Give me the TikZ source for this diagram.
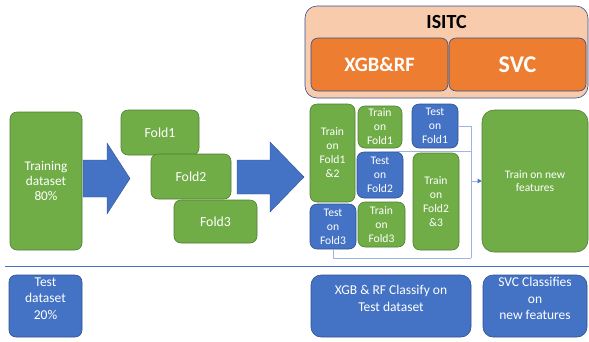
\documentclass[tikz,border=0pt]{standalone}
\usepackage{fontspec}
\setmainfont{Carlito}
\usepackage{tikz}
\usetikzlibrary{positioning}
\usetikzlibrary{arrows.meta}

\definecolor{ggreen}{HTML}{70AD47}
\definecolor{ggreenline}{HTML}{507E32}
\definecolor{bblue}{HTML}{4472C4}
\definecolor{bblueline}{HTML}{2F528F}
\definecolor{oorange}{HTML}{ED7D31}
\definecolor{ppeach}{HTML}{F8CBAD}
\definecolor{llink}{HTML}{9DB5E0}

\tikzset{
	box/.style={rounded corners=7pt, line width=0.6pt, inner sep=0pt, text=white,
		align=center, font=\fontsize{11.6}{14}\selectfont},
	greenbox/.style={box, fill=ggreen, draw=ggreenline},
	bluebox/.style={box, fill=bblue, draw=bblueline},
	orangebox/.style={box, fill=oorange, draw=bblueline},
	bigarrow/.style={fill=bblue, draw=bblueline, line width=0.4pt},
	link/.style={draw=llink, line width=0.8pt},
	bottomtext/.style={text=white, align=center, anchor=north, font=\fontsize{13.5}{16.5}\selectfont}
}

\begin{document}
\begin{tikzpicture}[x=1pt,y=-1pt]
	\useasboundingbox (0,0) rectangle (589,341);

	% model block
	\node[box, fill=ppeach, draw=bblueline, rounded corners=12pt, minimum width=283pt, minimum height=92pt] (isitc) at (446.5,52) {};
	\node[font=\fontsize{20}{22}\bfseries\selectfont, text=black] (isitctitle) at (446.5,22) {ISITC};
	\node[orangebox, font=\fontsize{20.5}{22}\bfseries\selectfont, minimum width=137pt, minimum height=53pt] (xgb) at (379.5,64.5) {XGB\&RF};
	\node[orangebox, font=\fontsize{24}{26}\bfseries\selectfont, minimum width=137pt, minimum height=53pt] (svc) at (517.5,64.5) {SVC};

	% training data and folds
	\node[greenbox, minimum width=72pt, minimum height=138pt, font=\fontsize{13.3}{15}\selectfont] (trainset) at (46,181) {Training\\dataset\\80\%};
	\draw[bigarrow] (83,160) -- (107,160) -- (107,143) -- (130,178.5) -- (107,214) -- (107,197) -- (83,197) -- cycle;
	\node[greenbox, minimum width=78pt, minimum height=45pt, font=\fontsize{13.8}{15}\selectfont] (fold1) at (160,132.5) {Fold1};
	\node[greenbox, minimum width=80pt, minimum height=45pt, font=\fontsize{13.8}{15}\selectfont] (fold2) at (191,176.5) {Fold2};
	\node[greenbox, minimum width=83pt, minimum height=43pt, font=\fontsize{13.8}{15}\selectfont] (fold3) at (215.5,221.5) {Fold3};
	\draw[bigarrow] (237,160) -- (270,160) -- (270,142) -- (304,177) -- (270,212) -- (270,194) -- (237,194) -- cycle;

	% cross validation
	\node[greenbox, minimum width=45pt, minimum height=98pt] (tr12) at (332.5,153) {Train\\on\\Fold1\\\&2};
	\node[greenbox, minimum width=44pt, minimum height=42pt] (tr1) at (380,127) {Train\\on\\Fold1};
	\node[bluebox, minimum width=46pt, minimum height=44pt] (te1) at (435,126) {Test\\on\\Fold1};
	\node[bluebox, minimum width=46pt, minimum height=46pt] (te2) at (380,175) {Test\\on\\Fold2};
	\node[greenbox, minimum width=46pt, minimum height=97pt] (tr23) at (436,201.5) {Train\\on\\Fold2\\\&3};
	\node[bluebox, minimum width=46pt, minimum height=45pt] (te3) at (333,226.5) {Test\\on\\Fold3};
	\node[greenbox, minimum width=47pt, minimum height=45pt] (tr3) at (381.5,224.5) {Train\\on\\Fold3};
	\node[greenbox, rounded corners=12pt, minimum width=106pt, minimum height=142pt, font=\fontsize{11.5}{13.5}\selectfont] (newtr) at (535,181) {Train on new\\features};

	% connectors
	\coordinate (jtop) at (471,126);
	\coordinate (jmid) at (471,151);
	\coordinate (jarr) at (471,181);
	\coordinate (jbot) at (471,258);
	\draw[link] (te1.east) -- (jtop) -- (jbot);
	\draw[link] (te2.north) |- (jmid);
	\draw[link] (te3.south) |- (jbot);
	\draw[link, -{Triangle[length=4pt,width=4.5pt,color=bblue]}] (jarr) -- (newtr.west);

	% separator
	\draw[bblue, line width=0.8pt] (5,266) -- (589,266);

	% test part
	\node[bluebox, minimum width=73pt, minimum height=62pt] (testset) at (45.5,306) {};
	\node[bottomtext] (testtxt) at (45.5,274) {Test\\dataset\\20\%};
	\node[bluebox, rounded corners=10pt, minimum width=160pt, minimum height=62pt] (xgbcls) at (391,306) {};
	\node[bottomtext] (xgbtxt) at (391,282) {XGB \& RF Classify on\\Test dataset};
	\node[bluebox, rounded corners=10pt, minimum width=104pt, minimum height=62pt] (svccls) at (535,306) {};
	\node[bottomtext] (svctxt) at (535,274) {SVC Classifies\\on\\new features};
\end{tikzpicture}
\end{document}
